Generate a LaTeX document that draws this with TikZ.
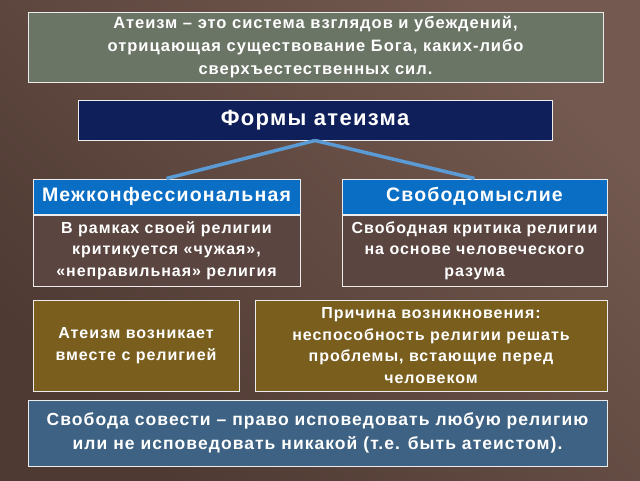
\documentclass[tikz,border=0pt]{standalone}
\usepackage{fontspec}
\setmainfont[LetterSpace=6]{Liberation Sans}
\usetikzlibrary{positioning}
\definecolor{bgbrown}{HTML}{73594F}
\definecolor{bgdark}{HTML}{4E3A33}
\definecolor{topgreen}{HTML}{6B7566}
\definecolor{formnavy}{HTML}{0F1F5A}
\definecolor{headblue}{HTML}{0A6EC4}
\definecolor{textbrown}{HTML}{5A4540}
\definecolor{boxolive}{HTML}{7A5E1E}
\definecolor{bottomblue}{HTML}{3E6283}
\definecolor{linkblue}{HTML}{5B9BD5}
\begin{document}
\begin{tikzpicture}[x=1pt, y=-1pt, font=\bfseries, text=white, align=center,
  box/.style={draw=white!85!gray, line width=1pt, inner sep=2pt, font=\bfseries\fontsize{16}{21.5}\selectfont},
  head/.style={box, fill=headblue, font=\bfseries\fontsize{19.5}{21}\selectfont},
  link/.style={linkblue, line width=3.5pt}]
  \shade[left color=bgdark, right color=bgbrown, shading angle=135] (0,0) rectangle (640,480);
  % definition
  \node[box, fill=topgreen, minimum width=575pt, minimum height=70pt, font=\bfseries\fontsize{16.5}{23}\selectfont] (def) at (315.5,47)
    {Атеизм – это система взглядов и убеждений,\\отрицающая существование Бога, каких-либо\\сверхъестественных сил.};
  \node[box, fill=formnavy, minimum width=474pt, minimum height=40pt, font=\bfseries\fontsize{22}{24}\selectfont] (forms) at (315,120) {Формы атеизма};
  % two forms
  \node[head, minimum width=267pt, minimum height=35pt] (inter) at (166.5,196.5) {Межконфессиональная};
  \node[head, minimum width=265pt, minimum height=35pt] (free) at (474.5,196.5) {Свободомыслие};
  \node[box, fill=textbrown, minimum width=267pt, minimum height=71pt, below=0pt of inter] (intertxt)
    {В рамках своей религии\\критикуется «чужая»,\\«неправильная» религия};
  \node[box, fill=textbrown, minimum width=265pt, minimum height=71pt, below=0pt of free] (freetxt)
    {Свободная критика религии\\на основе человеческого\\разума};
  % origin
  \node[box, fill=boxolive, minimum width=206pt, minimum height=91pt] (origin) at (136,345.5)
    {Атеизм возникает\\вместе с религией};
  \node[box, fill=boxolive, minimum width=352pt, minimum height=91pt] (cause) at (431,345.5)
    {Причина возникновения:\\неспособность религии решать\\проблемы, встающие перед\\человеком};
  \node[box, fill=bottomblue, minimum width=579pt, minimum height=66pt, font=\bfseries\fontsize{17.5}{24}\selectfont] (freedom) at (317.5,433)
    {Свобода совести – право исповедовать любую религию\\или не исповедовать никакой (т.е. быть атеистом).};
  \draw[link] (forms.south) -- (inter.north);
  \draw[link] (forms.south) -- (free.north);
\end{tikzpicture}
\end{document}
